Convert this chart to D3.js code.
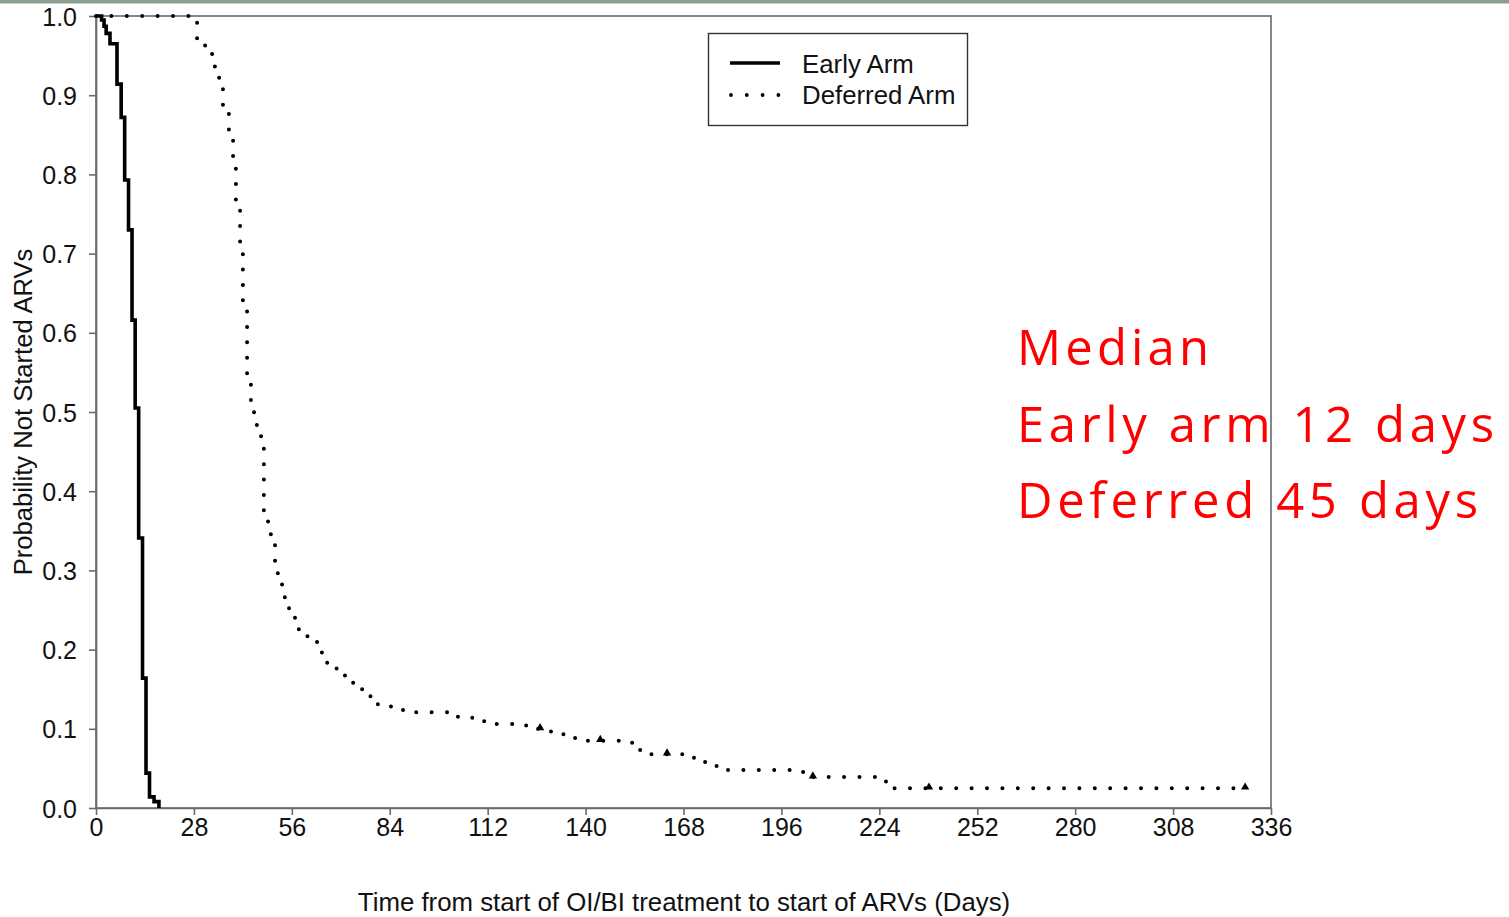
<!DOCTYPE html>
<html>
<head>
<meta charset="utf-8">
<script src="https://cdn.jsdelivr.net/npm/d3@7"></script>
<style>
  body { margin: 0; background: #fff; }
  svg { display: block; }
</style>
</head>
<body>
<div id="chart"></div>
<script>
(function() {
  var svg, x, y, line, deferredPts, earlyPts, stepAt, legend;

  // Kaplan-Meier steps (days, probability after the step)
  var earlyDays = [0, 1.6, 2.3, 2.9, 4.0, 6.0, 7.2, 8.2, 9.3, 10.3, 11.2, 12.2, 13.3, 14.3, 15.3, 16.6, 18.0];
  var earlySurv = [1, 0.995, 0.987, 0.978, 0.965, 0.914, 0.872, 0.793, 0.730, 0.616, 0.505, 0.341, 0.164, 0.044, 0.014, 0.008, 0];

  var deferredDays = [0, 28.9, 31.2, 33.2, 34.0, 35.2, 36.3, 38.0, 39.2, 40.0,
    41.2, 42.0, 43.2, 44.3, 45.2, 46.0, 47.2, 48.0, 49.2, 50.0,
    51.2, 52.0, 53.2, 54.0, 55.2, 56.9, 58.0, 60.9, 63.2, 64.6,
    66.1, 68.9, 71.2, 74.1, 76.1, 80.6, 87.8, 103.5, 111.0, 123.0,
    130.1, 137.0, 153.3, 155.6, 171.0, 174.2, 177.6, 202.2, 225.9, 328.6];
  var deferredSurv = [1, 0.963, 0.957, 0.944, 0.929, 0.914, 0.881, 0.850, 0.816, 0.761,
    0.707, 0.634, 0.543, 0.508, 0.492, 0.476, 0.461, 0.366, 0.351, 0.337,
    0.302, 0.288, 0.273, 0.258, 0.242, 0.231, 0.217, 0.211, 0.200, 0.189,
    0.176, 0.168, 0.158, 0.152, 0.141, 0.128, 0.121, 0.114, 0.106, 0.100,
    0.093, 0.085, 0.077, 0.068, 0.058, 0.053, 0.048, 0.039, 0.025, 0.025];

  // censored observations on the deferred arm
  var censorDays = [127.0, 144.2, 163.3, 205.0, 238.2, 328.6];

  var xTicks = [0, 28, 56, 84, 112, 140, 168, 196, 224, 252, 280, 308, 336];
  var yTicks = [0, 0.1, 0.2, 0.3, 0.4, 0.5, 0.6, 0.7, 0.8, 0.9, 1.0];
  var seriesNames = ["Early Arm", "Deferred Arm"];
  var medianLines = ["Median", "Early arm 12 days", "Deferred 45 days"];

  var axisFont = "'Liberation Sans', Arial, Helvetica, sans-serif";

  svg = d3.select("#chart").append("svg").attr("width", 1509).attr("height", 917);

  // thin green-grey strip along the top of the slide
  svg.append("rect").attr("x", 0).attr("y", 0).attr("width", 1509).attr("height", 3.5).attr("fill", "#8c9e8f");

  x = d3.scaleLinear().domain([0, 336]).range([96, 1271]);
  y = d3.scaleLinear().domain([0, 1]).range([808, 16]);

  // frame
  svg.append("rect")
    .attr("x", x(0)).attr("y", y(1))
    .attr("width", x(336) - x(0)).attr("height", y(0) - y(1))
    .attr("fill", "none").attr("stroke", "#6a6a6a").attr("stroke-width", 1.6);

  var yAxis = svg.append("g").attr("transform", "translate(" + x(0) + ",0)")
    .call(d3.axisLeft(y).tickValues(yTicks).tickFormat(d3.format(".1f")).tickSize(7).tickSizeOuter(0).tickPadding(12));
  var xAxis = svg.append("g").attr("transform", "translate(0," + y(0) + ")")
    .call(d3.axisBottom(x).tickValues(xTicks).tickFormat(d3.format("d")).tickSize(7).tickSizeOuter(0).tickPadding(3));

  [xAxis, yAxis].forEach(function(g) {
    g.select(".domain").attr("stroke", "#6a6a6a").attr("stroke-width", 1.6);
    g.selectAll(".tick line").attr("stroke", "#6a6a6a").attr("stroke-width", 1.6);
    g.selectAll(".tick text").attr("fill", "#111").style("font-family", axisFont).style("font-size", "25px");
  });
  yAxis.selectAll(".tick text").attr("dy", "0.36em");

  svg.append("text")
    .attr("x", 684).attr("y", 911)
    .attr("text-anchor", "middle")
    .style("font-family", axisFont).style("font-size", "25.8px").attr("fill", "#111")
    .text("Time from start of OI/BI treatment to start of ARVs (Days)");

  svg.append("text")
    .attr("transform", "translate(32,412) rotate(-90)")
    .attr("text-anchor", "middle")
    .style("font-family", axisFont).style("font-size", "25.6px").attr("fill", "#111")
    .text("Probability Not Started ARVs");

  line = d3.line()
    .x(function(d) { return x(d[0]); })
    .y(function(d) { return y(d[1]); })
    .curve(d3.curveStepAfter);

  earlyPts = earlyDays.map(function(d, i) { return [d, earlySurv[i]]; });
  deferredPts = deferredDays.map(function(d, i) { return [d, deferredSurv[i]]; });

  svg.append("path").datum(deferredPts)
    .attr("d", line)
    .attr("fill", "none").attr("stroke", "#000")
    .attr("stroke-width", 4).attr("stroke-linecap", "round")
    .attr("stroke-dasharray", "0 15.4");

  svg.append("path").datum(earlyPts)
    .attr("d", line)
    .attr("fill", "none").attr("stroke", "#000")
    .attr("stroke-width", 3.6).attr("stroke-linejoin", "miter");

  stepAt = function(t) {
    var s = 1;
    deferredDays.forEach(function(d, i) { if (d <= t) s = deferredSurv[i]; });
    return s;
  };

  svg.selectAll(".censor").data(censorDays).enter().append("path")
    .attr("class", "censor")
    .attr("d", d3.symbol().type(d3.symbolTriangle).size(30))
    .attr("transform", function(d) { return "translate(" + x(d) + "," + (y(stepAt(d)) - 1) + ")"; })
    .attr("fill", "#000");

  // legend
  legend = svg.append("g");
  legend.append("rect")
    .attr("x", 708.5).attr("y", 33.5).attr("width", 259).attr("height", 92)
    .attr("fill", "#fff").attr("stroke", "#333").attr("stroke-width", 1.4);
  legend.append("line")
    .attr("x1", 730).attr("x2", 780).attr("y1", 63).attr("y2", 63)
    .attr("stroke", "#000").attr("stroke-width", 3.6);
  legend.append("line")
    .attr("x1", 731).attr("x2", 781).attr("y1", 95).attr("y2", 95)
    .attr("stroke", "#000").attr("stroke-width", 3.8).attr("stroke-linecap", "round")
    .attr("stroke-dasharray", "0 15.8");
  legend.selectAll(".lab").data(seriesNames).enter().append("text")
    .attr("class", "lab")
    .attr("x", 802)
    .attr("y", function(d, i) { return 73 + i * 31; })
    .style("font-family", axisFont).style("font-size", "25.8px").attr("fill", "#111")
    .text(function(d) { return d; });

  // red annotation
  var widths = [192, 477, 461];
  svg.selectAll(".note").data(medianLines).enter().append("text")
    .attr("class", "note")
    .attr("x", 1017)
    .attr("y", function(d, i) { return 365 + i * 76.5; })
    .attr("textLength", function(d, i) { return widths[i]; })
    .attr("lengthAdjust", "spacing")
    .style("font-family", "'Open Sans', Lato, sans-serif").style("font-size", "49px")
    .attr("fill", "#ff0000")
    .text(function(d) { return d; });
})();
</script>
</body>
</html>
